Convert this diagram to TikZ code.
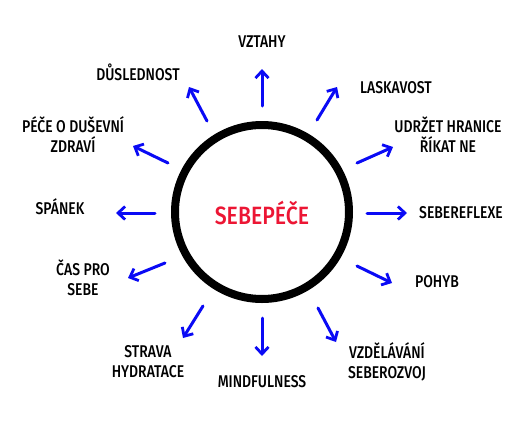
\documentclass[tikz,border=0pt]{standalone}
\usepackage{fontspec}
\usetikzlibrary{arrows.meta}
\newfontfamily\labfont[FakeStretch=0.82]{Fira Sans Medium}
\newfontfamily\titfont[FakeStretch=0.85]{Fira Sans Medium}
\definecolor{tred}{RGB}{236,22,52}
\definecolor{tblue}{RGB}{10,10,245}
\tikzset{
  lab/.style={font=\labfont\fontsize{17}{20}\selectfont, align=center, text=black, inner sep=0pt},
  arr/.style={draw=tblue, line width=3pt, line cap=round, -{Straight Barb[length=7pt,width=13pt,line width=2.8pt]}},
}
\begin{document}
\begin{tikzpicture}[x=1pt,y=-1pt]
\useasboundingbox (0,0) rectangle (520,424);
\fill[white] (0,0) rectangle (520,424);
\node[circle, draw=black, line width=8pt, minimum size=174pt, inner sep=0pt] (c) at (262,212) {};
\node[font=\titfont\fontsize{25}{28}\selectfont, text=tred, inner sep=0pt] (t) at (262,213) {SEBEPÉČE};
% labels
\node[lab] (vztahy) at (262,42) {VZTAHY};
\node[lab] (lask) at (396,88) {LASKAVOST};
\node[lab] (udrz) at (448,135) {UDRŽET HRANICE\\ŘÍKAT NE};
\node[lab] (refl) at (461,213) {SEBEREFLEXE};
\node[lab] (pohyb) at (437,282) {POHYB};
\node[lab] (vzdel) at (387,362) {VZDĚLÁVÁNÍ\\SEBEROZVOJ};
\node[lab] (mind) at (262,382) {MINDFULNESS};
\node[lab] (strava) at (148,362) {STRAVA\\HYDRATACE};
\node[lab] (cas) at (83,278) {ČAS PRO\\SEBE};
\node[lab] (spanek) at (60,207) {SPÁNEK};
\node[lab] (pece) at (73,135) {PÉČE O DUŠEVNÍ\\ZDRAVÍ};
\node[lab] (dusl) at (138,72) {DŮSLEDNOST};
% arrow coordinates
\coordinate (a1) at (262,106); \coordinate (b1) at (262,69);
\coordinate (a2) at (317,120); \coordinate (b2) at (337,87);
\coordinate (a3) at (357,163); \coordinate (b3) at (393,147);
\coordinate (a4) at (367,213); \coordinate (b4) at (407,213);
\coordinate (a5) at (357,266); \coordinate (b5) at (392,283);
\coordinate (a6) at (318,308); \coordinate (b6) at (336,342);
\coordinate (a7) at (262,318); \coordinate (b7) at (262,356);
\coordinate (a8) at (203,306); \coordinate (b8) at (183,338);
\coordinate (a9) at (165,263); \coordinate (b9) at (128,278);
\coordinate (a10) at (155,213); \coordinate (b10) at (116,213);
\coordinate (a11) at (168,163); \coordinate (b11) at (133,146);
\coordinate (a12) at (207,121); \coordinate (b12) at (189,87);
\foreach \i in {1,...,12} { \draw[arr] (a\i) -- (b\i); }
\end{tikzpicture}
\end{document}
